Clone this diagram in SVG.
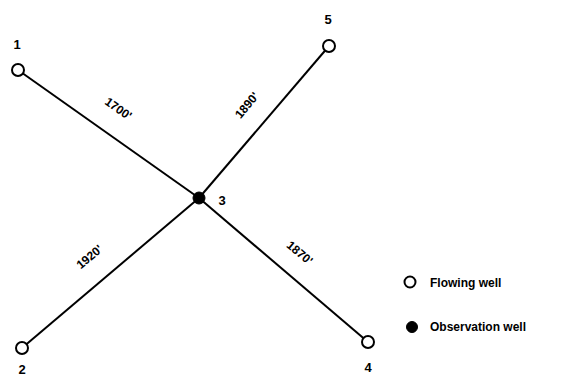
<svg xmlns="http://www.w3.org/2000/svg" width="579" height="376" viewBox="0 0 579 376">
<style>
.conn{stroke:#000;stroke-width:2;fill:none}
.open{fill:#fff;stroke:#000;stroke-width:2}
.obs{fill:#000;stroke:#000;stroke-width:1}
.num{font-family:"Liberation Sans",Arial,sans-serif;font-size:13px;font-weight:bold;fill:#000}
.dist{font-family:"Liberation Sans",Arial,sans-serif;font-size:12px;font-weight:bold;fill:#000}
.leg{font-family:"Liberation Sans",Arial,sans-serif;font-size:12px;font-weight:bold;fill:#000}
</style>
<rect width="579" height="376" fill="#fff"/>
<g id="connectors">
<line class="conn" x1="18" y1="70" x2="199" y2="198"/>
<line class="conn" x1="329" y1="46" x2="199" y2="198"/>
<line class="conn" x1="22" y1="348" x2="199" y2="198"/>
<line class="conn" x1="368" y1="342" x2="199" y2="198"/>
<text class="dist" transform="translate(116,112) rotate(35)" text-anchor="middle">1700'</text>
<text class="dist" transform="translate(250,108) rotate(-50)" text-anchor="middle">1890'</text>
<text class="dist" transform="translate(92,260) rotate(-40)" text-anchor="middle">1920'</text>
<text class="dist" transform="translate(297,256) rotate(40)" text-anchor="middle">1870'</text>
</g>
<g id="well1"><circle class="open" cx="18" cy="70" r="6"/><text class="num" x="17" y="49" text-anchor="middle">1</text></g>
<g id="well5"><circle class="open" cx="329" cy="46" r="6"/><text class="num" x="328" y="24" text-anchor="middle">5</text></g>
<g id="well3"><circle class="obs" cx="199" cy="198" r="6"/><text class="num" x="222" y="205" text-anchor="middle">3</text></g>
<g id="well2"><circle class="open" cx="22" cy="348" r="6"/><text class="num" x="22" y="374" text-anchor="middle">2</text></g>
<g id="well4"><circle class="open" cx="368" cy="342" r="6"/><text class="num" x="368" y="372" text-anchor="middle">4</text></g>
<g id="legend">
<circle class="open" cx="410" cy="282" r="5.5"/><text class="leg" x="430" y="287">Flowing well</text>
<circle class="obs" cx="412" cy="327" r="5.5"/><text class="leg" x="430" y="331">Observation well</text>
</g>
</svg>
